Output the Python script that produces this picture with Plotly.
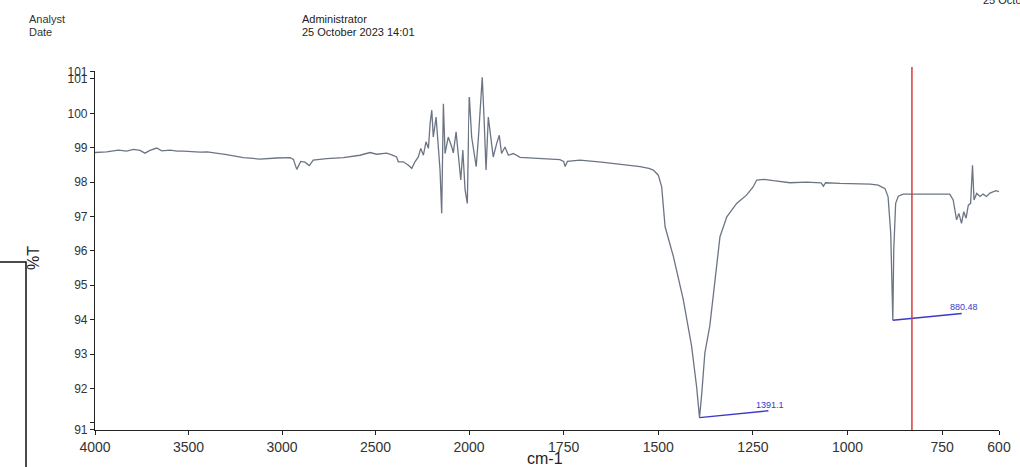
import plotly.graph_objects as go

# ---------------- data ----------------
wavenumber = [
    4000, 3938, 3875, 3831, 3795, 3759, 3733, 3706, 3670, 3643, 3599, 3560, 3528,
    3480, 3438, 3400, 3367, 3296, 3207, 3118, 3028, 2957, 2939, 2921, 2900, 2877,
    2854, 2833, 2761, 2672, 2583, 2529, 2494, 2440, 2413, 2387, 2378, 2351, 2324,
    2306, 2289, 2271, 2258, 2244, 2230, 2217, 2208, 2199, 2191, 2176, 2164, 2155,
    2146, 2137, 2128, 2111, 2092, 2084, 2069, 2057, 2044, 2033, 2021, 2009, 1999,
    1993, 1987, 1981, 1975, 1969, 1965, 1960, 1955, 1949, 1943, 1936, 1927, 1920,
    1914, 1905, 1896, 1883, 1865, 1839, 1800, 1760, 1750, 1746, 1740, 1707, 1650,
    1620, 1580, 1548, 1525, 1513, 1500, 1491, 1482, 1460, 1434, 1412, 1399, 1391.1,
    1385, 1377, 1364, 1350, 1337, 1319, 1293, 1267, 1250, 1240, 1220, 1196, 1152,
    1108, 1070, 1064, 1058, 1020, 976, 940, 919, 901, 893, 886, 880.48, 878, 873,
    866, 853, 800, 760, 730, 721, 712, 706, 699, 693, 687, 681, 675, 670, 666, 659,
    650, 642, 633, 624, 616, 608, 600,
]
transmittance = [
    98.86, 98.88, 98.93, 98.90, 98.95, 98.92, 98.84, 98.92, 98.99, 98.91, 98.93, 98.90, 98.90,
    98.88, 98.87, 98.88, 98.86, 98.80, 98.71, 98.67, 98.70, 98.71, 98.66, 98.37, 98.60, 98.58,
    98.48, 98.64, 98.68, 98.71, 98.78, 98.86, 98.81, 98.84, 98.79, 98.73, 98.59, 98.59, 98.49,
    98.40, 98.59, 98.73, 98.98, 98.78, 99.17, 98.98, 99.70, 100.09, 99.31, 99.89, 99.02, 98.35,
    97.09, 100.28, 98.83, 99.31, 99.02, 98.85, 99.46, 98.83, 98.06, 98.93, 97.77, 97.38, 100.47,
    99.31, 98.93, 98.45, 99.31, 100.28, 101.05, 99.80, 98.35, 99.89, 99.31, 98.73, 99.12, 99.36,
    98.83, 99.02, 98.78, 98.83, 98.72, 98.70, 98.68, 98.65, 98.60, 98.45, 98.60, 98.64, 98.58,
    98.54, 98.50, 98.45, 98.40, 98.35, 98.20, 97.86, 96.70, 95.83, 94.58, 93.23, 92.07, 91.15,
    91.87, 93.03, 93.81, 95.16, 96.41, 96.99, 97.38, 97.62, 97.85, 98.06, 98.08, 98.04, 97.98,
    98.00, 97.98, 97.88, 97.98, 97.96, 97.96, 97.94, 97.91, 97.81, 97.57, 96.51, 93.98, 96.03, 97.38,
    97.59, 97.65, 97.65, 97.66, 97.65, 97.48, 96.90, 97.09, 96.80, 97.14, 96.95, 97.33, 97.38, 98.49, 97.48, 97.67,
    97.58, 97.65, 97.58, 97.68, 97.72, 97.75, 97.72,
]

peak_wn = [1391.1, 880.48]
peak_t = [91.15, 93.98]
peak_labels = ["1391.1", "880.48"]

cursor_wn = 830

x_ticks_high = [4000, 3500, 3000, 2500, 2000]
x_ticks_low = [1750, 1500, 1250, 1000, 750, 600]
y_min, y_max = 90.8, 101.22
y_ticks = [y_min, 91, 92, 93, 94, 95, 96, 97, 98, 99, 100, 101, y_max]
y_tick_text = ["91", "", "92", "93", "94", "95", "96", "97", "98", "99", "100", "101", "101"]

header_left = ["Analyst", "Date"]
header_right = ["Administrator", "25 October 2023 14:01"]
corner_text = "25 October"

# ---------------- layout geometry ----------------
W, H = 1020, 467
L, R, T, B = 95, 21, 71, 37
PW, PH = W - L - R, H - T - B
split_px = 469
split = (split_px - L) / PW

def px(x):
    return (x - L) / PW

def py(y):
    return (H - B - y) / PH

FONT = "Liberation Sans, Arial, sans-serif"
LINE_COL = "#6c7484"

# split the data between the two scale segments (keep one point past the break)
hi_idx = [i for i, w in enumerate(wavenumber) if w >= 2000]
lo_idx = [i for i, w in enumerate(wavenumber) if w < 2000]
hi_idx = hi_idx + [lo_idx[0]]
lo_idx = [hi_idx[-2]] + lo_idx

fig = go.Figure()
fig.add_trace(go.Scatter(
    x=[wavenumber[i] for i in hi_idx], y=[transmittance[i] for i in hi_idx],
    xaxis="x", yaxis="y", mode="lines",
    line=dict(color=LINE_COL, width=1.3), showlegend=False, hoverinfo="skip"))
fig.add_trace(go.Scatter(
    x=[wavenumber[i] for i in lo_idx], y=[transmittance[i] for i in lo_idx],
    xaxis="x2", yaxis="y", mode="lines",
    line=dict(color=LINE_COL, width=1.3), showlegend=False, hoverinfo="skip"))

# peak marker lines
for wn, t, lab in zip(peak_wn, peak_t, peak_labels):
    end_w = wn - 182
    end_t = t + 0.2
    fig.add_trace(go.Scatter(
        x=[wn, end_w], y=[t, end_t], xaxis="x2", yaxis="y", mode="lines",
        line=dict(color="#3a3ac8", width=1.4), showlegend=False, hoverinfo="skip"))
    fig.add_annotation(x=end_w, y=end_t, xref="x2", yref="y", text=lab,
                       showarrow=False, xanchor="center", yanchor="bottom",
                       yshift=-1, xshift=2,
                       font=dict(family=FONT, size=9, color="#3a3ac8"))

axis_common = dict(showline=True, linecolor="#222", linewidth=1.2,
                   ticks="outside", ticklen=4, tickcolor="#222",
                   showgrid=False, zeroline=False, automargin=False,
                   tickfont=dict(family=FONT, size=14, color="#333"))

fig.update_layout(
    width=W, height=H,
    margin=dict(l=L, r=R, t=T, b=B, autoexpand=False),
    paper_bgcolor="white", plot_bgcolor="white",
    xaxis=dict(domain=[0, split], range=[4000, 2000], tickmode="array",
               tickvals=x_ticks_high, ticktext=[str(v) for v in x_ticks_high],
               anchor="y", **axis_common),
    xaxis2=dict(domain=[split, 1], range=[2000, 600], tickmode="array",
                tickvals=x_ticks_low, ticktext=[str(v) for v in x_ticks_low],
                anchor="y", **axis_common),
    yaxis=dict(range=[y_min - 0.01, y_max + 0.01], tickmode="array",
               tickvals=y_ticks, ticktext=y_tick_text, anchor="x",
               **{**axis_common, "tickfont": dict(family=FONT, size=12, color="#333")}),
)

# red cursor line
fig.add_shape(type="line", xref="x2", yref="paper", x0=cursor_wn, x1=cursor_wn,
              y0=0, y1=py(67), line=dict(color="#d83a3a", width=1.5))

# left bracket (document border)
fig.add_shape(type="path", xref="paper", yref="paper",
              path=f"M {px(0)},{py(262)} L {px(26)},{py(262)} L {px(26)},{py(470)}",
              line=dict(color="#111", width=1.5))

# axis titles
fig.add_annotation(x=px(33), y=py(258), xref="paper", yref="paper", text="%T",
                   textangle=-90, showarrow=False, xanchor="center", yanchor="middle",
                   font=dict(family=FONT, size=16, color="#222"))
fig.add_annotation(x=px(545), y=py(458), xref="paper", yref="paper", text="cm-1",
                   showarrow=False, xanchor="center", yanchor="middle",
                   font=dict(family=FONT, size=16, color="#222"))

# header texts
for txt, yy in zip(header_left, [19, 32]):
    fig.add_annotation(x=px(27), y=py(yy), xref="paper", yref="paper", text=txt,
                       showarrow=False, xanchor="left", yanchor="middle",
                       font=dict(family=FONT, size=11, color="#333"))
for txt, yy in zip(header_right, [19, 32]):
    fig.add_annotation(x=px(300), y=py(yy), xref="paper", yref="paper", text=txt,
                       showarrow=False, xanchor="left", yanchor="middle",
                       font=dict(family=FONT, size=11, color="#222"))
fig.add_annotation(x=px(981), y=py(0), xref="paper", yref="paper", text=corner_text,
                   showarrow=False, xanchor="left", yanchor="middle",
                   font=dict(family=FONT, size=11, color="#222"))

fig.write_html("out.html")
